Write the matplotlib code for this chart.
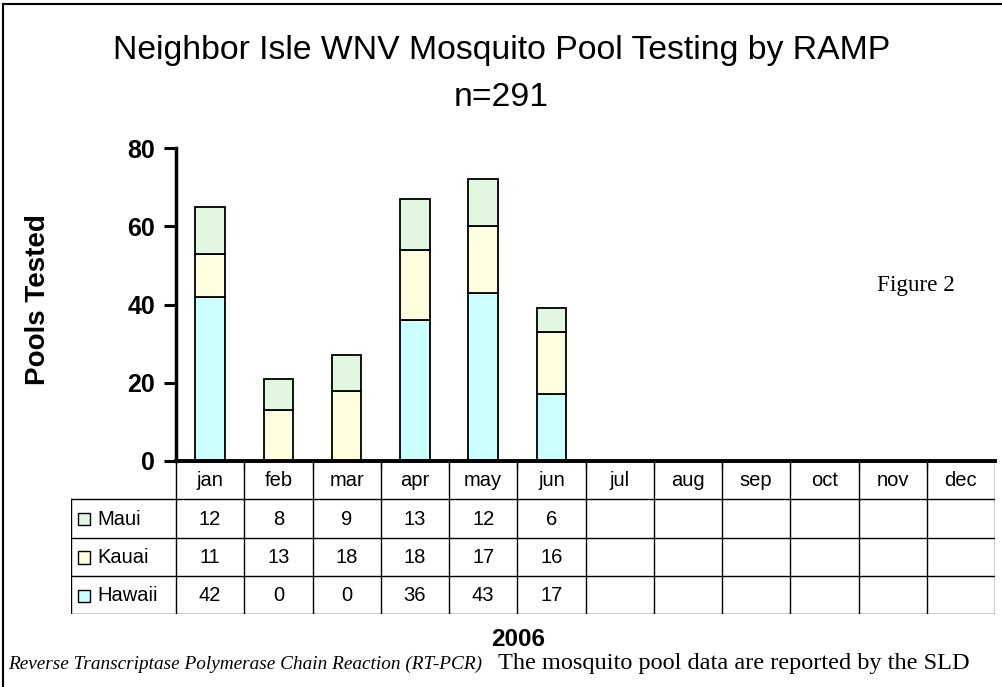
import matplotlib.pyplot as plt
import numpy as np
from matplotlib.patches import Rectangle

# data
months = ['jan', 'feb', 'mar', 'apr', 'may', 'jun', 'jul', 'aug', 'sep', 'oct', 'nov', 'dec']
hawaii = [42, 0, 0, 36, 43, 17]
kauai = [11, 13, 18, 18, 17, 16]
maui = [12, 8, 9, 13, 12, 6]
series = ['Maui', 'Kauai', 'Hawaii']
colors = {'Hawaii': '#CCFFFF', 'Kauai': '#FFFFE0', 'Maui': '#E2F7DF'}

W, H = 1003, 687
fig = plt.figure(figsize=(W / 100, H / 100), dpi=100)
sans = 'Liberation Sans'
serif = 'Liberation Serif'

def fx(px):
    return px / W

def fy(py):
    return 1 - py / H

# frame of the figure (left and top only)
fig.add_artist(plt.Line2D([fx(3), fx(3)], [fy(4), 0], color='black', lw=1.5))
fig.add_artist(plt.Line2D([fx(3), 1], [fy(4), fy(4)], color='black', lw=1.5))

# bar axes
ax = fig.add_axes([fx(176), fy(461), fx(995 - 176), (461 - 148) / H])
x = np.arange(len(hawaii)) + 0.5
bw = 0.43
h = np.array(hawaii)
k = np.array(kauai)
m = np.array(maui)
ax.bar(x, h, bw, color=colors['Hawaii'], edgecolor='black', lw=1.3)
ax.bar(x, k, bw, bottom=h, color=colors['Kauai'], edgecolor='black', lw=1.3)
ax.bar(x, m, bw, bottom=h + k, color=colors['Maui'], edgecolor='black', lw=1.3)
ax.set_xlim(0, 12)
ax.set_ylim(0, 80)
ax.set_yticks([0, 20, 40, 60, 80])
ax.set_xticks(np.arange(1, 12))
ax.set_xticklabels([])
ax.tick_params(axis='x', length=6, width=1, color='#666666', direction='out')
ax.tick_params(axis='y', length=9, width=2.2, pad=6)
for lab in ax.get_yticklabels():
    lab.set_fontfamily(sans)
    lab.set_fontweight('bold')
    lab.set_fontsize(18)
for s in ['top', 'right']:
    ax.spines[s].set_visible(False)
ax.spines['left'].set_linewidth(2.5)
ax.spines['bottom'].set_linewidth(2.8)
ax.patch.set_alpha(0)

# data table
tax = fig.add_axes([fx(71), fy(614), fx(995 - 71), (614 - 461) / H])
lab_w = (176 - 71) / ((995 - 176) / 12)
tax.set_xlim(-lab_w, 12)
tax.set_ylim(4, 0)
tax.axis('off')
tc = 'black'
lw = 1.0
# horizontal lines
tax.plot([0, 12], [0, 0], color=tc, lw=lw)
for r in [1, 2, 3, 4]:
    tax.plot([-lab_w, 12], [r, r], color=tc, lw=lw)
# vertical lines
tax.plot([-lab_w, -lab_w], [1, 4], color=tc, lw=lw)
for c in range(13):
    tax.plot([c, c], [0, 4], color=tc, lw=lw)
for i, mo in enumerate(months):
    tax.text(i + 0.5, 0.5, mo, ha='center', va='center', fontsize=14.5, family=sans)
rows = {'Maui': maui, 'Kauai': kauai, 'Hawaii': hawaii}
for r, name in enumerate(series, start=1):
    tax.add_patch(Rectangle((-lab_w + 0.1, r + 0.36), 0.175, 0.32,
                            facecolor=colors[name], edgecolor='black', lw=1))
    tax.text(-lab_w + 0.38, r + 0.52, name, ha='left', va='center', fontsize=14.5, family=sans)
    for i, v in enumerate(rows[name]):
        tax.text(i + 0.5, r + 0.52, str(v), ha='center', va='center', fontsize=14.5, family=sans)

# texts
fig.text(0.5, fy(50), 'Neighbor Isle WNV Mosquito Pool Testing by RAMP', ha='center', va='center',
         fontsize=24.3, family=sans)
fig.text(0.5, fy(98), 'n=291', ha='center', va='center', fontsize=24.3, family=sans)
fig.text(fx(38), fy(300), 'Pools Tested', rotation=90, ha='center', va='center',
         fontsize=20, fontweight='bold', family=sans)
fig.text(fx(877), fy(285), 'Figure 2', ha='left', va='center', fontsize=16.7, family=serif)
fig.text(fx(518), fy(640), '2006', ha='center', va='center', fontsize=17.5, fontweight='bold', family=sans)
fig.text(fx(8), fy(669), 'Reverse Transcriptase Polymerase Chain Reaction (RT-PCR)', ha='left',
         va='baseline', fontsize=13.9, style='italic', family=serif)
fig.text(fx(498), fy(669), 'The mosquito pool data are reported by the SLD', ha='left',
         va='baseline', fontsize=17.5, family=serif)

fig.savefig('out.png', dpi=100)
